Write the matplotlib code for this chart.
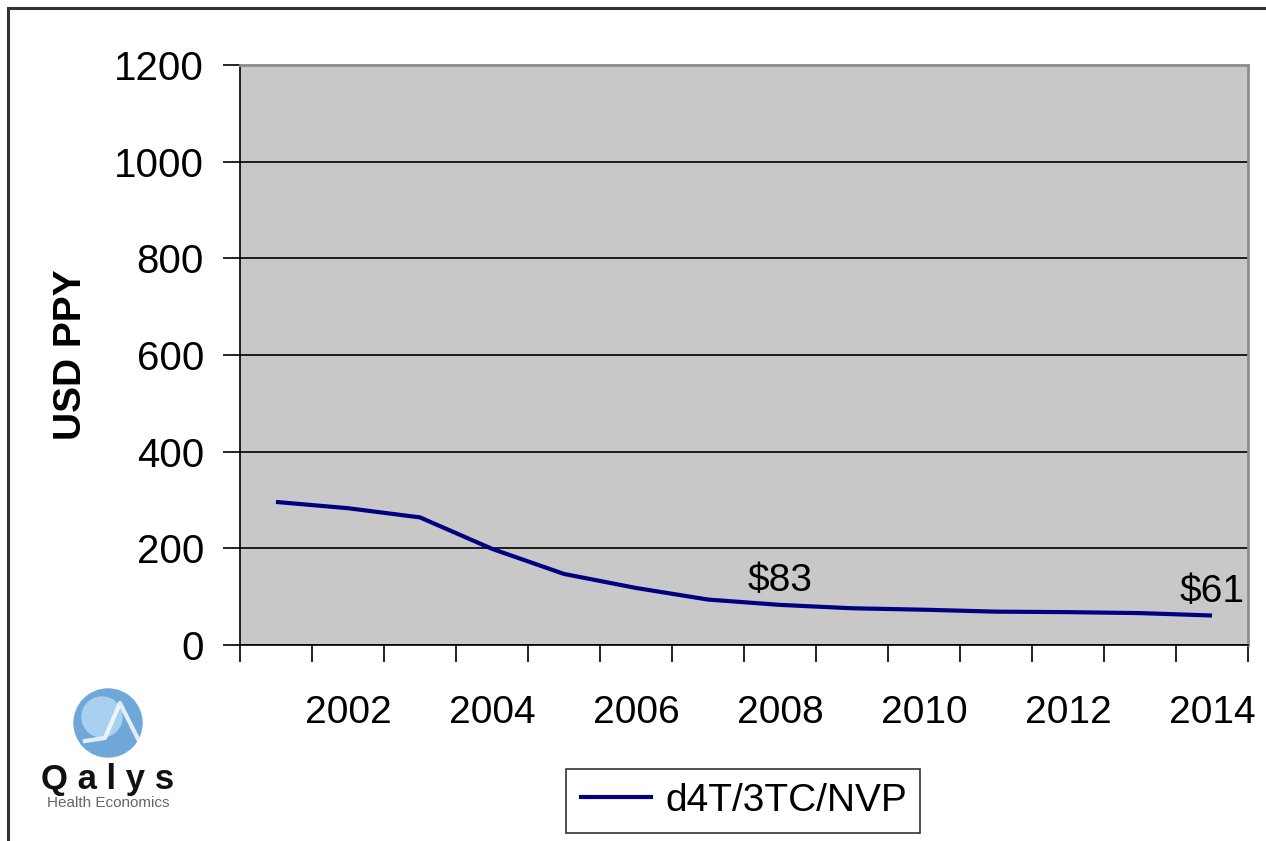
import matplotlib.pyplot as plt
from matplotlib.patches import Circle, Rectangle
import numpy as np

plt.rcParams['font.family'] = ['Liberation Sans', 'DejaVu Sans']

years = [2001, 2002, 2003, 2004, 2005, 2006, 2007, 2008, 2009, 2010, 2011, 2012, 2013, 2014]
price = [296, 283, 264, 199, 147, 118, 94, 83, 76, 73, 69, 68, 66, 61]
label_years = [2002, 2004, 2006, 2008, 2010, 2012, 2014]
annotated = {2008: '$83', 2014: '$61'}

fig = plt.figure(figsize=(12.66, 8.41), dpi=100)
W, H = 1266, 841

# outer frame (runs off the right/bottom edge like the original)
fig.patches.append(Rectangle((8 / W, -0.05), 1.2, 1 - 8 / H + 0.05, transform=fig.transFigure,
                             fill=False, edgecolor='#333333', lw=2.2))

ax = fig.add_axes([240 / W, 1 - 645 / H, 1008 / W, 580 / H])
ax.set_facecolor('#c8c8c8')

x = np.arange(len(years))
ax.plot(x, price, color='#000080', lw=3.0, label='d4T/3TC/NVP', solid_capstyle='butt')
for yr, txt in annotated.items():
    i = years.index(yr)
    ax.text(i, price[i] + 12, txt, ha='center', va='bottom', fontsize=28)

ax.set_xlim(-0.5, len(years) - 0.5)
ax.set_ylim(0, 1200)
ax.set_yticks(range(0, 1201, 200))
ax.yaxis.grid(True, color='black', lw=1.2)
ax.set_axisbelow(True)
ax.tick_params(axis='y', labelsize=29, length=12, width=1.2, pad=14)

ax.set_xticks(np.arange(-0.5, len(years)))
ax.set_xticklabels([])
ax.set_xticks([years.index(y) for y in label_years], minor=True)
ax.set_xticklabels([str(y) for y in label_years], minor=True)
ax.tick_params(axis='x', which='major', length=12, width=1.2)
ax.tick_params(axis='x', which='minor', length=0, labelsize=28, pad=36)

for s in ['top', 'right']:
    ax.spines[s].set_color('#8c8c8c')
    ax.spines[s].set_linewidth(2)
for s in ['left', 'bottom']:
    ax.spines[s].set_color('black')
    ax.spines[s].set_linewidth(1.2)

ax.set_ylabel('USD PPY', fontsize=28, fontweight='bold', labelpad=18)

leg = fig.legend(loc='center', bbox_to_anchor=(743 / W, 1 - 801 / H), fontsize=28,
                 frameon=True, fancybox=False, edgecolor='black', handlelength=1.9,
                 handletextpad=0.3, borderpad=0.35)
leg.get_frame().set_linewidth(1.2)

# logo
logo = fig.add_axes([40 / W, 1 - 815 / H, 140 / W, 130 / H])
logo.set_xlim(0, 140)
logo.set_ylim(130, 0)
logo.axis('off')
logo.add_patch(Circle((68, 38), 34, color='#6fa8d8'))
logo.add_patch(Circle((62, 32), 20, color='#a9d0f0'))
logo.plot([45, 65, 80, 100], [56, 53, 18, 58], color='white', lw=3, alpha=0.8)
logo.text(68, 94, 'Q a l y s', ha='center', va='center', fontsize=25, fontweight='bold', color='#111111')
logo.text(68, 118, 'Health Economics', ha='center', va='center', fontsize=11, color='#666666')

fig.savefig('out.png', dpi=100)
